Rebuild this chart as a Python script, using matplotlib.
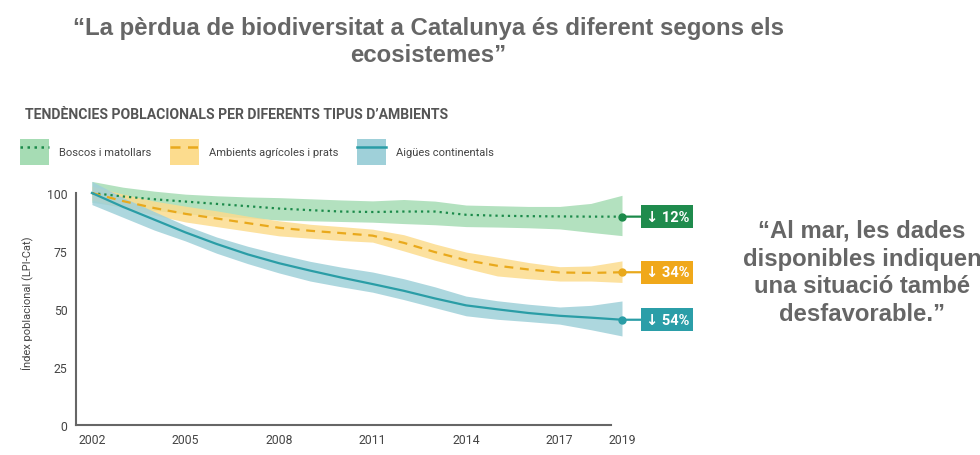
import matplotlib
matplotlib.use("Agg")
import matplotlib.pyplot as plt
from matplotlib.patches import Patch
from matplotlib.lines import Line2D

# Years of the index
years = list(range(2002, 2020))
x_ticks = [2002, 2005, 2008, 2011, 2014, 2017, 2019]

# Boscos i matollars
boscos = [100, 98.5, 97.3, 96.3, 95.3, 94.3, 93.3, 92.6, 92.0, 91.8, 92.0, 92.0, 90.6, 90.2, 90.0, 89.9, 89.8, 89.8]
boscos_hi = [105, 102.5, 100.8, 99.5, 98.8, 98.3, 98.0, 97.5, 97.0, 96.6, 97.2, 96.5, 94.8, 94.5, 94.2, 94.2, 95.5, 99.0]
boscos_lo = [96, 94, 92.5, 91, 90, 89.3, 88.3, 88.0, 87.7, 87.4, 86.8, 86.3, 85.5, 85.3, 85.0, 84.5, 83.0, 81.6]

# Ambients agricoles i prats
agricoles = [100, 96.5, 93.5, 91, 89, 87, 85, 83.7, 82.7, 81.6, 78.5, 74.5, 71, 68.6, 67, 65.7, 65.5, 65.8]
agricoles_hi = [103, 99.5, 96.5, 94.3, 92.3, 90, 88, 86.5, 85.5, 84.4, 82, 78, 74.5, 72.3, 70, 68.2, 68.5, 70.7]
agricoles_lo = [97, 93.5, 90.5, 87.5, 85.5, 83.5, 81.5, 80.5, 79.5, 78.8, 75, 71, 67.5, 64.2, 63, 62, 62, 61.4]

# Aigues continentals
aigues = [100, 94, 88.5, 83, 78, 73.5, 69.7, 66.5, 63.5, 60.7, 57.8, 54.5, 51.5, 49.8, 48.2, 47, 46.2, 45.3]
aigues_hi = [105, 98, 92, 86, 81, 77, 73.6, 70.5, 68, 65.9, 63, 59.5, 55.5, 53.5, 52, 50.8, 51.5, 53.4]
aigues_lo = [95, 89.5, 84, 79.3, 74, 69.5, 65.5, 62, 59.5, 57.2, 54, 50.5, 47, 45.5, 44.5, 43.4, 41, 38.3]

labels = ["Boscos i matollars", "Ambients agrícoles i prats", "Aigües continentals"]
declines = ["↓ 12%", "↓ 34%", "↓ 54%"]

series = [(boscos, boscos_lo, boscos_hi), (agricoles, agricoles_lo, agricoles_hi), (aigues, aigues_lo, aigues_hi)]
band_colors = ["#a6dcb4", "#fcdc8e", "#9fd0d9"]
line_colors = ["#1b8a4a", "#e9a91c", "#2a9da6"]
box_colors = ["#1f8b4d", "#f0a81a", "#2b9ea8"]
styles = [(0, (1, 1.8)), (0, (4, 3)), "-"]

GREY = "#666666"
TXT = "#444444"

fig = plt.figure(figsize=(9.8, 4.56), dpi=100)
ax = fig.add_axes([76 / 980, 30.3 / 456, 546 / 980, 245.6 / 456])

for i, (mid, lo, hi) in enumerate(series):
    ax.fill_between(years, lo, hi, color=band_colors[i], alpha=0.85, lw=0, clip_on=False, zorder=1 + i)
    ax.plot(years, mid, color=line_colors[i], lw=1.6, ls=styles[i], clip_on=False, zorder=5)
    ax.plot(years[-1], mid[-1], "o", color=line_colors[i], ms=5, clip_on=False, zorder=6)
    ax.annotate(declines[i], xy=(years[-1], mid[-1]), xytext=(17, 0), textcoords="offset points",
                ha="left", va="center", color="white", fontsize=10.5, fontweight="bold",
                family=["Roboto", "DejaVu Sans"],
                bbox=dict(boxstyle="square,pad=0.3", fc=box_colors[i], ec="none"),
                arrowprops=dict(arrowstyle="-", color=line_colors[i], lw=1.6, shrinkA=0, shrinkB=0),
                annotation_clip=False, zorder=7)

ax.set_xlim(2001.49, 2019)
ax.set_ylim(0, 106)
ax.spines[["top", "right"]].set_visible(False)
ax.spines["left"].set_bounds(0, 100)
ax.spines["bottom"].set_bounds(2001.49, 2018.65)
for s in ["left", "bottom"]:
    ax.spines[s].set_color(GREY)
    ax.spines[s].set_linewidth(1.5)
ax.set_xticks(x_ticks)
ax.set_yticks([0, 25, 50, 75, 100])
ax.tick_params(length=0, labelsize=8.8, colors=TXT, pad=6)
for lab in ax.get_xticklabels() + ax.get_yticklabels():
    lab.set_family("Roboto")
ax.set_ylabel("Índex poblacional (LPI-Cat)", fontsize=8, color=TXT, family="Roboto", labelpad=10)

# legend
handles = []
for i in range(3):
    handles.append((Patch(fc=band_colors[i], ec="none"),
                    Line2D([], [], color=line_colors[i], lw=1.8, ls=styles[i])))
fig.legend(handles, labels, loc="center left", bbox_to_anchor=(10 / 980, 1 - 153 / 456), ncol=3,
           frameon=False, prop=dict(family="Roboto", size=8), handlelength=2.6, handleheight=3.3,
           handletextpad=0.9, columnspacing=1.7, labelcolor=TXT)

fig.text(25 / 980, 1 - 115 / 456, "TENDÈNCIES POBLACIONALS PER DIFERENTS TIPUS D’AMBIENTS",
         fontsize=10.1, fontweight="bold", color="#555555", family="Roboto", va="center")

fig.text(428 / 980, 1 - 42 / 456, "“La pèrdua de biodiversitat a Catalunya és diferent segons els\necosistemes”",
         ha="center", va="center", fontsize=17.3, fontweight="bold", color=GREY,
         family=["Liberation Sans Narrow", "Liberation Sans"], linespacing=1.22)

fig.text(862 / 980, 1 - 273 / 456, "“Al mar, les dades\ndisponibles indiquen\nuna situació també\ndesfavorable.”",
         ha="center", va="center", fontsize=17.2, fontweight="bold", color=GREY,
         family="Liberation Sans", linespacing=1.27)

fig.savefig("out.png", dpi=100, facecolor="white")
